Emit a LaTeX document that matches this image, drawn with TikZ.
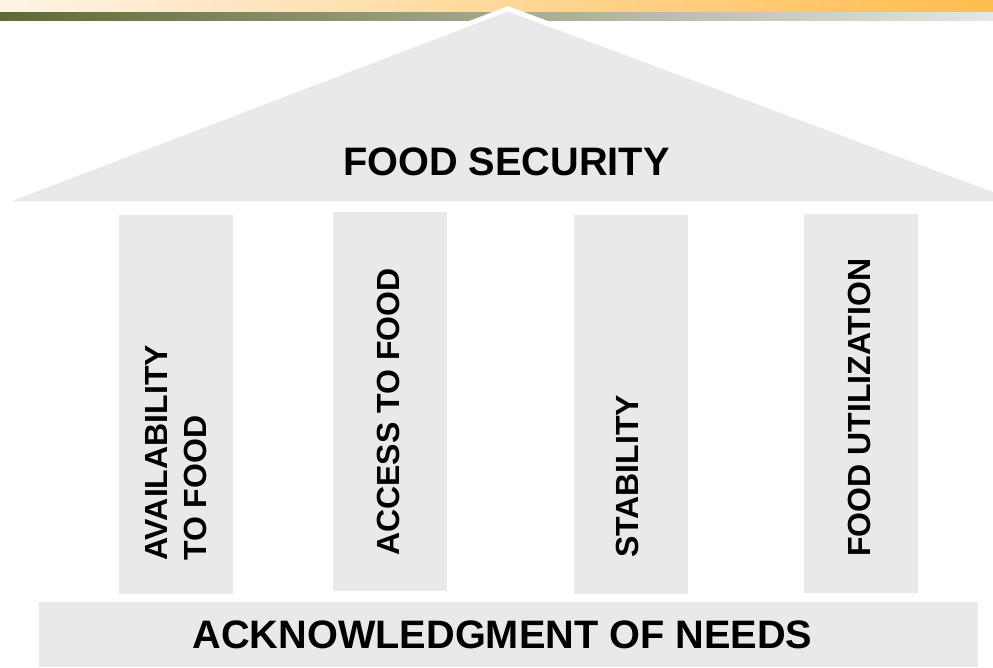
\documentclass[tikz,border=0pt]{standalone}
\usepackage{fontspec}
\setmainfont{Liberation Sans}
\definecolor{pillargray}{RGB}{233,233,233}
\definecolor{bandpeach}{RGB}{255,243,230}
\definecolor{bandorange}{RGB}{255,189,78}
\definecolor{bandolive}{RGB}{94,106,52}
\definecolor{bandgray}{RGB}{230,230,228}
\begin{document}
\begin{tikzpicture}[x=1pt,y=-1pt,
  pillar/.style={fill=pillargray, inner sep=0, minimum width=114, minimum height=379},
  upright/.style={rotate=90, anchor=west, inner sep=0, align=left,
    font=\fontsize{32}{39}\selectfont\bfseries},
  bigtext/.style={anchor=base, inner sep=0, font=\fontsize{39.7}{47}\selectfont\bfseries}]
\useasboundingbox (0,0) rectangle (993,667);
\clip (0,0) rectangle (993,667);
\shade[left color=bandpeach, right color=bandorange] (0,0) rectangle (993,12);
\shade[left color=bandolive, right color=bandgray] (0,12) rectangle (993,20);
\coordinate (roofl) at (12,201);
\coordinate (rooft) at (508,11.5);
\coordinate (roofr) at (1017,201);
\draw[white, line width=10, line join=miter] (roofl) -- (rooft) -- (roofr);
\fill[pillargray] (roofl) -- (rooft) -- (roofr) -- cycle;
\node[bigtext] (title) at (506.5,175) {FOOD SECURITY};
\node[pillar] (p1) at (176,404) {};
\node[pillar] (p2) at (390,401.5) {};
\node[pillar] (p3) at (631,404.5) {};
\node[pillar] (p4) at (861,403.5) {};
\node[upright] (t1) at (176,561) {AVAILABILITY\\TO FOOD};
\node[upright] (t2) at (388.5,556) {ACCESS TO FOOD};
\node[upright] (t3) at (627.5,558) {STABILITY};
\node[upright] (t4) at (859,557) {FOOD UTILIZATION};
\node[fill=pillargray, inner sep=0, minimum width=939, minimum height=65] (base) at (508.5,634.5) {};
\node[bigtext] (basetext) at (502.5,648) {ACKNOWLEDGMENT OF NEEDS};
\end{tikzpicture}
\end{document}
